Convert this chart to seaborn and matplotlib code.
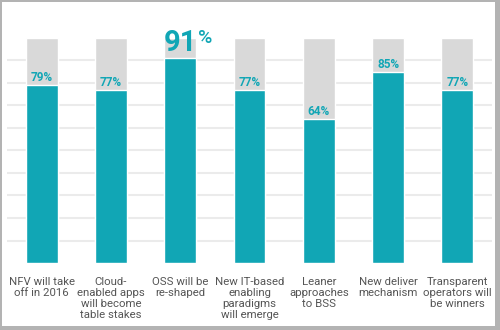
import matplotlib
matplotlib.use("Agg")
import matplotlib.pyplot as plt
import seaborn as sns
import pandas as pd
from matplotlib.patches import Rectangle

categories = ["NFV will take\noff in 2016", "Cloud-\nenabled apps\nwill become\ntable stakes",
              "OSS will be\nre-shaped", "New IT-based\nenabling\nparadigms\nwill emerge",
              "Leaner\napproaches\nto BSS", "New deliver\nmechanism", "Transparent\noperators will\nbe winners"]
values = [79, 77, 91, 77, 64, 85, 77]
totals = [100, 100, 100, 100, 100, 100, 100]
highlight = 2

TEAL = "#11a6b5"
GREY = "#d9d9d9"

sns.set_theme(style="white")
plt.rcParams['font.family'] = ['Roboto', 'DejaVu Sans']

df = pd.DataFrame({"cat": categories, "val": values, "tot": totals})

fig = plt.figure(figsize=(5, 3.3), dpi=100)
ax = fig.add_axes([0.014, 0.203, 0.97, 0.682])

sns.barplot(data=df, x="cat", y="tot", color=GREY, width=0.46, saturation=1, ax=ax, zorder=2)
sns.barplot(data=df, x="cat", y="val", color=TEAL, width=0.46, saturation=1, ax=ax, zorder=3)

ax.set_xlim(-0.5, len(categories) - 0.5)
ax.set_ylim(0, 100)
ax.set_yticks(range(10, 100, 10))
ax.yaxis.grid(True, color="#ebebeb", linewidth=1.5)
ax.set_axisbelow(True)
ax.tick_params(axis="y", left=False, labelleft=False)
ax.tick_params(axis="x", bottom=False, pad=4, labelsize=8.2, labelcolor="#555555")
for lbl in ax.get_xticklabels():
    lbl.set_linespacing(1.12)
    lbl.set_va("top")
ax.set_xlabel("")
ax.set_ylabel("")
for s in ax.spines.values():
    s.set_visible(False)

for i, v in enumerate(values):
    if i == highlight:
        ax.text(i, v + 0.5, f"{v}", ha="center", va="bottom", color=TEAL,
                fontsize=21, fontweight="bold", zorder=5, clip_on=False)
        ax.annotate("%", xy=(i, v), xytext=(13, 8), textcoords="offset points",
                    ha="left", va="bottom", color=TEAL, fontsize=14, fontweight="medium",
                    zorder=5, annotation_clip=False)
    else:
        ax.text(i, v + 0.5, f"{v}%", ha="center", va="bottom", color=TEAL,
                fontsize=8.5, fontweight="bold", zorder=5)

# frame
fw, fh = 500, 330
for (x, y, w, h) in [(0, 0, 2, fh), (0, fh - 2, fw, 2), (fw - 5, 0, 5, fh), (0, 0, fw, 4)]:
    fig.patches.append(Rectangle((x / fw, y / fh), w / fw, h / fh, transform=fig.transFigure,
                                 facecolor="#b3b3b3", edgecolor="none", zorder=10))

fig.savefig("out.png", dpi=100)
